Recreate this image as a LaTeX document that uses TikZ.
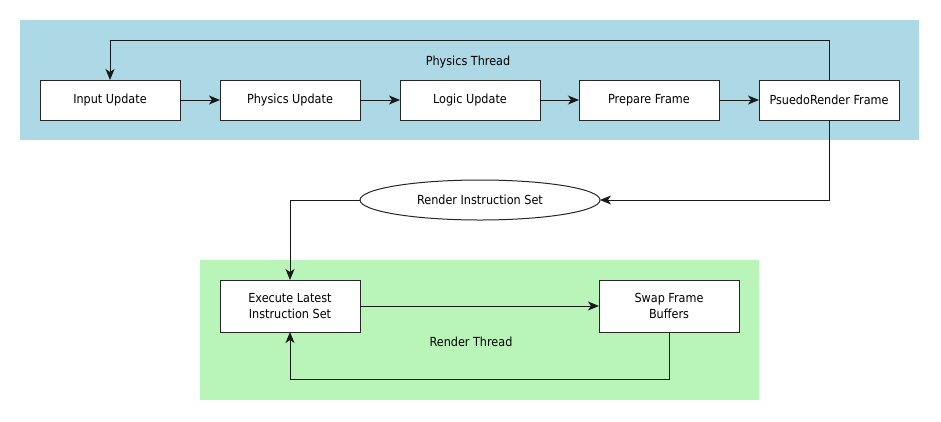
\documentclass[tikz,border=0pt]{standalone}
\usepackage{fontspec}
\setmainfont{DejaVu Sans Condensed}
\usetikzlibrary{arrows.meta,shapes.geometric}
\definecolor{physbg}{HTML}{ADD8E6}
\definecolor{rendbg}{HTML}{B9F5B9}
\tikzset{
  procbox/.style={draw=black!85, fill=white, line width=1pt, rectangle, inner sep=0pt, outer sep=0pt,
    minimum width=140pt, minimum height=40pt, align=center, font=\fontsize{12.5}{16.7}\selectfont},
  tallbox/.style={procbox, minimum height=52pt},
  datanode/.style={draw=black!85, fill=white, line width=1pt, ellipse, inner sep=0pt, outer sep=0pt,
    minimum width=240pt, minimum height=40pt, font=\fontsize{12.5}{16.7}\selectfont},
  lbl/.style={inner sep=0pt, font=\fontsize{12.5}{16.7}\selectfont},
  arr/.style={line width=1pt, draw=black!90, -{Stealth[length=11pt,width=9pt,inset=3pt]}}
}
\begin{document}
\begin{tikzpicture}[x=1pt,y=-1pt]
\useasboundingbox (0,0) rectangle (941,421);
\fill[white] (0,0) rectangle (941,421);
\fill[physbg] (20,20) rectangle (919,140);
\fill[rendbg] (200,260) rectangle (759,400);

\node[lbl] (pt) at (468,62) {Physics Thread};
\node[lbl] (rt) at (471,342) {Render Thread};

\node[procbox] (in) at (110,100) {Input Update};
\node[procbox] (ph) at (290,100) {Physics Update};
\node[procbox] (lo) at (470,100) {Logic Update};
\node[procbox] (pf) at (649,100) {Prepare Frame};
\node[procbox] (pr) at (829,100) {PsuedoRender Frame};

\node[datanode] (ris) at (480,200) {Render Instruction Set};

\node[tallbox] (ex) at (290,306) {Execute Latest\\Instruction Set};
\node[tallbox] (sw) at (669,306) {Swap Frame\\Buffers};

\draw[arr] (in) -- (ph);
\draw[arr] (ph) -- (lo);
\draw[arr] (lo) -- (pf);
\draw[arr] (pf) -- (pr);
\draw[arr] (pr.north) -- (pr.north |- 0,40) -- (in.north |- 0,40) -- (in.north);
\draw[arr] (pr.south) |- (ris.east);
\draw[arr] (ris.west) -| (ex.north);
\draw[arr] (ex.east) -- (sw.west);
\draw[arr] (sw.south) -- (sw.south |- 0,379) -| (ex.south);
\end{tikzpicture}
\end{document}
